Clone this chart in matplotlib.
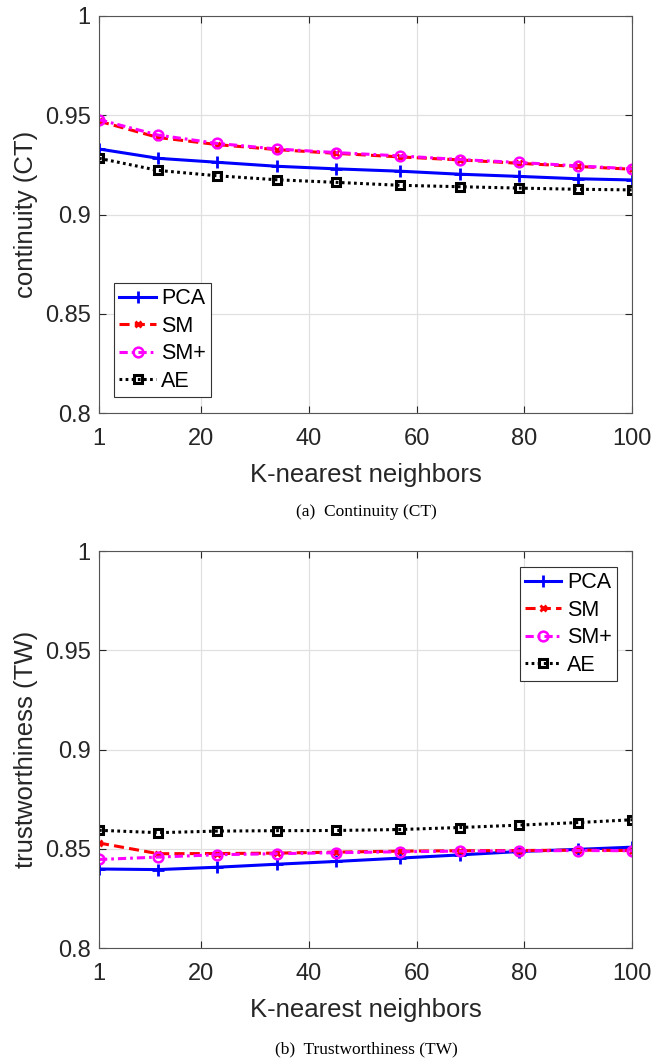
import matplotlib
matplotlib.use("Agg")
import matplotlib.pyplot as plt

# data
k = [1, 12, 23, 34, 45, 57, 68, 79, 90, 100]

ct_pca = [0.9330, 0.9283, 0.9263, 0.9243, 0.9230, 0.9218, 0.9203, 0.9192, 0.9180, 0.9174]
ct_sm = [0.9470, 0.9388, 0.9352, 0.9327, 0.9308, 0.9290, 0.9275, 0.9258, 0.9242, 0.9228]
ct_smp = [0.9478, 0.9400, 0.9358, 0.9330, 0.9312, 0.9295, 0.9277, 0.9262, 0.9245, 0.9230]
ct_ae = [0.9283, 0.9222, 0.9195, 0.9175, 0.9162, 0.9147, 0.9140, 0.9133, 0.9127, 0.9124]

tw_pca = [0.8398, 0.8395, 0.8407, 0.8422, 0.8436, 0.8453, 0.8469, 0.8486, 0.8497, 0.8508]
tw_sm = [0.8529, 0.8475, 0.8476, 0.8478, 0.8483, 0.8488, 0.8490, 0.8491, 0.8493, 0.8491]
tw_smp = [0.8446, 0.8458, 0.8470, 0.8475, 0.8480, 0.8485, 0.8488, 0.8489, 0.8491, 0.8490]
tw_ae = [0.8593, 0.8581, 0.8589, 0.8591, 0.8592, 0.8597, 0.8607, 0.8619, 0.8632, 0.8646]

names = ["PCA", "SM", "SM+", "AE"]
xticks = [1, 20, 40, 60, 80, 100]
yticks = [0.8, 0.85, 0.9, 0.95, 1]
ytick_labels = ["0.8", "0.85", "0.9", "0.95", "1"]

styles = [
    dict(color="#0000ff", linestyle="-", marker="+", markersize=8, markeredgewidth=2),
    dict(color="#ff0000", linestyle=(0, (3.3, 1.7)), marker="x", markersize=5, markeredgewidth=2),
    dict(color="#ff00ff", linestyle=(0, (2.7, 1.3, 0.9, 1.3)), marker="o", markersize=7,
         markeredgewidth=1.8, markerfacecolor="none"),
    dict(color="#000000", linestyle=(0, (0.9, 1.1)), marker="s", markersize=5.5,
         markeredgewidth=2.2, markerfacecolor="none"),
]

FONT = ["Liberation Sans", "DejaVu Sans"]
SERIF = ["Liberation Serif", "DejaVu Serif"]
GRAY = "#262626"
W, H = 652.0, 1061.0


def draw(ax, series, ylabel, legend_loc, legend_anchor):
    for vals, name, st in zip(series, names, styles):
        ax.plot(k, vals, label=name, linewidth=2.2, **st)
    ax.set_xlim(1, 100)
    ax.set_ylim(0.8, 1)
    ax.set_xticks(xticks)
    ax.set_yticks(yticks)
    ax.set_yticklabels(ytick_labels)
    ax.grid(True, color="#e0e0e0", linewidth=0.9)
    ax.set_axisbelow(True)
    ax.tick_params(direction="in", length=5, width=0.8, color=GRAY,
                   labelsize=17, labelcolor=GRAY, top=True, right=True)
    ax.tick_params(axis="x", pad=11)
    ax.tick_params(axis="y", pad=6)
    for lab in ax.get_xticklabels() + ax.get_yticklabels():
        lab.set_family(FONT)
    for sp in ax.spines.values():
        sp.set_color("#555555")
        sp.set_linewidth(0.8)
    ax.set_xlabel("K-nearest neighbors", fontsize=18.5, family=FONT, color=GRAY, labelpad=9)
    ax.set_ylabel(ylabel, fontsize=18.5, family=FONT, color=GRAY, labelpad=5)
    leg = ax.legend(loc=legend_loc, bbox_to_anchor=legend_anchor, fancybox=False,
                    prop={"family": FONT, "size": 15.5}, handlelength=1.7,
                    handletextpad=0.25, borderpad=0.25, labelspacing=0.3,
                    borderaxespad=0, framealpha=1)
    leg.get_frame().set_edgecolor("#333333")
    leg.get_frame().set_linewidth(0.8)


fig = plt.figure(figsize=(6.52, 10.61), dpi=100)

ax1 = fig.add_axes([99 / W, 1 - 413 / H, 533 / W, 397 / H])
draw(ax1, [ct_pca, ct_sm, ct_smp, ct_ae], "continuity (CT)", "lower left",
     (15 / 533, 16 / 397))
fig.text(366 / W, 1 - 512 / H, "(a)  Continuity (CT)", ha="center", va="center",
         fontsize=12.5, family=SERIF)

ax2 = fig.add_axes([99 / W, 1 - 948 / H, 533 / W, 397 / H])
draw(ax2, [tw_pca, tw_sm, tw_smp, tw_ae], "trustworthiness (TW)", "upper right",
     (1 - 15 / 533, 1 - 16 / 397))
fig.text(366 / W, 1 - 1049 / H, "(b)  Trustworthiness (TW)", ha="center", va="center",
         fontsize=12.5, family=SERIF)

fig.savefig("out.png", dpi=100)
